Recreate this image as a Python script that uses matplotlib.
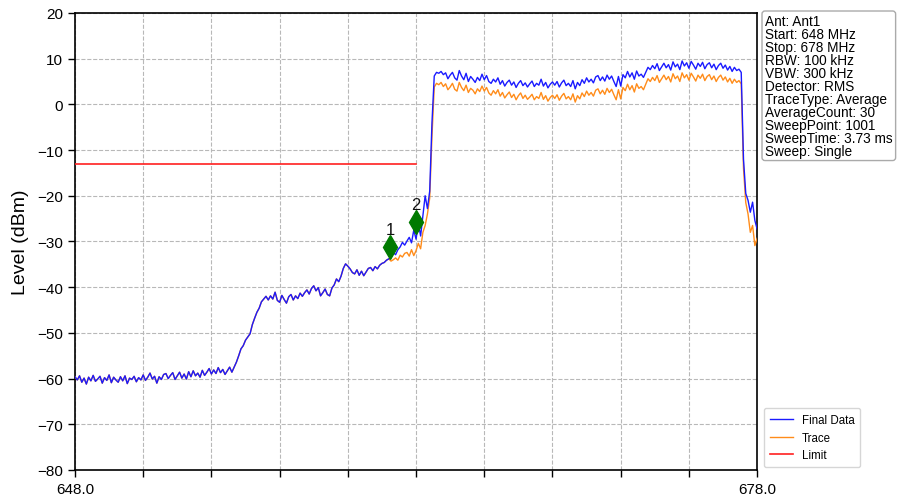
import numpy as np
import matplotlib
matplotlib.use("Agg")
import matplotlib.pyplot as plt

plt.rcParams['font.family'] = ['Liberation Sans', 'DejaVu Sans']

# Frequency axis (MHz), 0.1 MHz step
f_start, f_stop = 648.0, 678.0

# Final Data (dBm), one value per 0.1 MHz from 648.0 to 678.0
final_data = [
    -59.6, -60.3, -59.4, -60.8, -59.9, -61.2, -59.7, -60.5, -59.3, -60.6,
    -60.1, -59.5, -61.0, -59.8, -60.4, -59.2, -60.9, -59.7, -60.3, -60.8,
    -59.6, -60.5, -59.4, -61.1, -59.9, -60.2, -59.5, -60.7, -59.8, -60.3,
    -59.2, -60.4, -59.7, -58.8, -60.1, -59.5, -61.0, -59.6, -60.2, -59.1,
    -58.9, -60.0, -59.3, -58.7, -60.2, -59.4, -58.6, -59.9, -59.0, -60.1,
    -58.5, -59.6, -58.3, -59.4, -58.8, -59.7, -58.2, -59.3, -58.6, -57.8,
    -59.0, -58.1, -58.9, -57.6, -58.7, -58.0, -59.1, -58.3, -57.5, -58.6,
    -57.5, -56.4, -55.0, -53.5, -52.8, -51.6, -50.9, -50.2, -48.2, -46.8,
    -45.5, -44.6, -43.2, -42.6, -42.0, -42.8, -41.9, -42.6, -41.1, -42.9,
    -43.3, -41.8, -42.7, -43.5, -42.1, -41.6, -42.8, -41.9, -42.5, -41.3,
    -42.0, -41.2, -40.6, -41.5, -40.3, -39.7, -40.8, -40.1, -41.9, -41.2,
    -40.4, -41.6, -41.9, -40.2, -39.5, -38.2, -38.8, -37.6, -35.9, -34.9,
    -35.4, -36.0, -36.8, -37.1, -36.2, -37.4, -36.5, -37.5, -36.7, -35.9,
    -35.7, -36.4, -35.5, -36.0, -35.2, -34.8, -34.6, -34.1, -33.8, -33.5,
    -32.4, -32.9, -31.8, -31.2, -30.2, -30.8, -29.9, -29.1, -30.3, -27.5,
    -29.5, -26.0, -28.8, -24.5, -20.0, -22.8, -19.0, -4.0, 6.2, 7.0,
    6.8, 7.2, 6.5, 6.9, 5.6, 6.4, 7.0, 5.8, 5.3, 7.4,
    6.2, 5.4, 6.8, 5.0, 6.1, 5.5, 4.8, 5.9, 5.2, 6.6,
    5.4, 6.3, 5.0, 4.6, 5.5, 4.9, 5.8, 4.4, 5.2, 4.0,
    4.8, 5.3, 4.2, 4.9, 3.7, 4.6, 5.2, 4.1, 4.7, 3.8,
    4.5, 5.1, 3.9, 4.6, 4.2, 5.5, 4.0, 4.8, 3.6, 4.4,
    4.9, 4.2, 5.0, 3.8, 4.7, 5.3, 4.1, 4.6, 3.9, 5.2,
    3.4, 4.8, 4.1, 5.4, 4.6, 5.8, 4.9, 5.5, 4.7, 6.0,
    6.3, 5.2, 6.0, 5.1, 6.4, 5.5, 6.2, 5.0, 3.9, 6.1,
    4.0, 6.5, 5.8, 7.2, 6.0, 6.9, 5.5, 7.3, 6.2, 6.6,
    5.9, 7.0, 8.1, 7.6, 8.5, 7.8, 8.9, 7.4, 8.2, 9.0,
    8.0, 8.7, 7.5, 9.3, 8.2, 8.8, 7.6, 9.5, 8.4, 9.1,
    7.9, 9.4, 8.6, 7.7, 9.0, 8.3, 9.2, 7.8, 8.7, 9.1,
    8.0, 8.8, 7.6, 8.5, 9.0, 7.9, 8.6, 7.5, 8.3, 7.2,
    8.1, 7.4, 7.7, 7.0, -12.0, -19.5, -21.0, -23.6, -21.4, -25.4,
    -27.3,
]

# Trace (dBm): identical to Final Data below 661.8 MHz, then these values
trace_split = 138  # index of 661.8 MHz
trace_tail = [
    -33.8, -34.3,
    -34.0, -33.6, -34.1, -33.0, -33.4, -32.6, -32.4, -33.2, -31.8, -33.1,
    -32.0, -30.4, -31.6, -28.0, -26.5, -24.0, -20.5, -7.0, 3.8, 4.6,
    4.3, 4.8, 3.9, 4.5, 3.2, 3.8, 4.6, 3.3, 2.9, 4.8,
    3.7, 3.0, 4.2, 2.6, 3.5, 3.1, 2.3, 3.4, 2.8, 4.0,
    2.9, 3.7, 2.5, 2.0, 3.0, 2.3, 3.2, 1.8, 2.6, 1.4,
    2.1, 2.7, 1.5, 2.2, 1.0, 1.9, 2.5, 1.3, 2.0, 1.1,
    1.6, 2.2, 1.0, 1.7, 1.3, 2.6, 1.1, 1.9, 0.7, 1.5,
    2.0, 1.3, 2.1, 0.9, 1.8, 2.4, 1.2, 1.7, 1.0, 2.3,
    0.5, 1.9, 1.2, 2.5, 1.7, 2.9, 2.0, 2.6, 1.8, 3.1,
    3.4, 2.3, 3.1, 2.2, 3.5, 2.6, 3.3, 2.1, 1.0, 3.2,
    1.2, 3.7, 3.0, 4.4, 3.2, 4.1, 2.7, 4.5, 3.5, 3.9,
    3.2, 4.4, 5.6, 5.0, 5.9, 5.2, 6.3, 4.8, 5.6, 6.4,
    5.4, 6.1, 4.9, 6.7, 5.6, 6.2, 5.0, 6.9, 5.8, 6.5,
    5.3, 6.8, 6.0, 5.1, 6.4, 5.7, 6.6, 5.2, 6.1, 6.5,
    5.4, 6.2, 5.0, 5.9, 6.4, 5.3, 6.0, 4.9, 5.7, 4.6,
    5.5, 4.8, 5.2, 4.5, -14.0, -21.5, -24.0, -28.0, -26.5, -30.9,
    -29.3,
]

# Limit line
limit_freq = [648.0, 663.0]
limit_level = [-13.0, -13.0]

# Markers
marker_freq = [661.86, 663.0]
marker_level = [-31.3, -25.8]
marker_labels = ["1", "2"]

info_lines = [
    "Ant: Ant1",
    "Start: 648 MHz",
    "Stop: 678 MHz",
    "RBW: 100 kHz",
    "VBW: 300 kHz",
    "Detector: RMS",
    "TraceType: Average",
    "AverageCount: 30",
    "SweepPoint: 1001",
    "SweepTime: 3.73 ms",
    "Sweep: Single",
]

freq = np.linspace(f_start, f_stop, len(final_data))
trace = final_data[:trace_split] + trace_tail

fig = plt.figure(figsize=(8.99, 5.02), dpi=100)
ax = fig.add_axes([0.0834, 0.0618, 0.7588, 0.9104])

ax.plot(freq, trace, color='#ff8c1a', lw=1.0, label='Trace', zorder=3)
ax.plot(freq, final_data, color='#1a1aff', lw=1.0, label='Final Data', zorder=4)
ax.plot(limit_freq, limit_level, color='#ff2020', lw=1.2, label='Limit', zorder=3)

for mf, ml, lab in zip(marker_freq, marker_level, marker_labels):
    ax.plot(mf, ml, marker='d', color='#007a00', markersize=12, zorder=6)
    ax.text(mf, ml + 2.3, lab, ha='center', va='bottom', fontsize=12, color='#111111', zorder=7)

ax.set_xlim(f_start, f_stop)
ax.set_ylim(-80, 20)
ax.set_xticks(np.arange(648, 679, 3))
ax.set_xticklabels(['648.0'] + [''] * 9 + ['678.0'])
ax.set_yticks(np.arange(-80, 21, 10))
ax.tick_params(axis='both', labelsize=11, direction='out', length=5, width=1)
ax.set_ylabel('Level (dBm)', fontsize=14, labelpad=6)
ax.grid(True, linestyle='--', color='#b8b8b8', lw=0.8)
for s in ax.spines.values():
    s.set_linewidth(1.2)

handles, labels = ax.get_legend_handles_labels()
order = [1, 0, 2]
leg = fig.legend([handles[i] for i in order], [labels[i] for i in order],
                 loc='lower left', bbox_to_anchor=(758 / 899, (502 - 474) / 502),
                 fontsize=8.3, frameon=True, borderpad=0.5, handlelength=2.0)
leg.get_frame().set_edgecolor('#cccccc')

fig.text(765 / 899, 1 - 15 / 502, "\n".join(info_lines), ha='left', va='top',
         fontsize=9.8, linespacing=0.905,
         bbox=dict(boxstyle='round,pad=0.22', facecolor='white', edgecolor='#aaaaaa', lw=1))

fig.savefig('out.png', dpi=100)
